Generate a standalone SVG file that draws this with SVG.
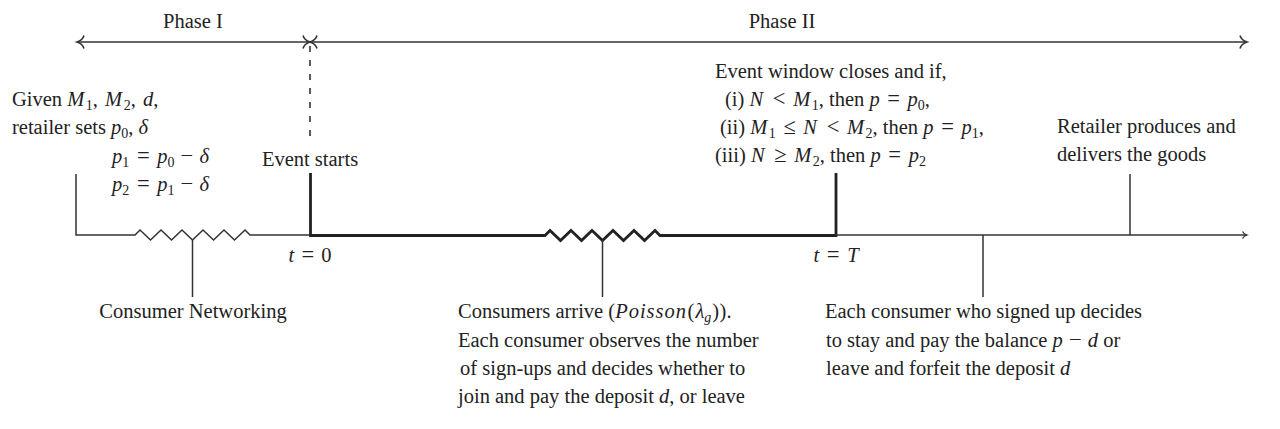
<svg xmlns="http://www.w3.org/2000/svg" width="1280" height="429" viewBox="0 0 1280 429">
<defs>
<style>
text{font-family:"Liberation Serif","Times New Roman",serif;font-size:20.5px;fill:#222}
.m{font-style:italic}
.s{font-size:14px}
.r{font-size:22.5px}
.thin{stroke:#333;stroke-width:1.5;fill:none}
.thick{stroke:#222;stroke-width:2.8;fill:none}
.dash{stroke:#333;stroke-width:1.6;stroke-dasharray:6 8;fill:none}
</style>
<marker id="big" markerUnits="userSpaceOnUse" markerWidth="16" markerHeight="16" viewBox="-8 -8 16 16" refX="0" refY="0" orient="auto-start-reverse">
<path d="M-7,-6.5 C-6,-3 -2.5,-0.8 0,0 C-2.5,0.8 -6,3 -7,6.5" fill="none" stroke="#333" stroke-width="1.6"/>
</marker>
<marker id="small" markerUnits="userSpaceOnUse" markerWidth="12" markerHeight="12" viewBox="-6 -6 12 12" refX="0" refY="0" orient="auto">
<path d="M-4.5,-3.5 C-3.5,-1.6 -1.5,-0.5 0,0 C-1.5,0.5 -3.5,1.6 -4.5,3.5" fill="none" stroke="#333" stroke-width="1.3"/>
</marker>
</defs>
<rect width="1280" height="429" fill="#fff"/>

<g id="connectors">
<line class="thin" x1="77" y1="42" x2="310" y2="42" marker-start="url(#big)" marker-end="url(#big)"/>
<line class="thin" x1="310" y1="42" x2="1247" y2="42" marker-start="url(#big)" marker-end="url(#big)"/>
<line class="dash" x1="310" y1="46" x2="310" y2="142"/>
<path class="thin" d="M76,174 V235 H135 l5,-5 l10.5,10 l10.5,-10 l10.5,10 l10.5,-10 l10.5,10 l10.5,-10 l10.5,10 l10.5,-10 l10.5,10 l10.5,-10 l5,5 H310"/>
<path class="thick" d="M310.5,173 V235.5 H545 l5,-5 l10.5,10 l10.5,-10 l10.5,10 l10.5,-10 l10.5,10 l10.5,-10 l10.5,10 l10.5,-10 l10.5,10 l10.5,-10 l5,5 H836 V173"/>
<line class="thin" x1="836" y1="235" x2="1247" y2="235" marker-end="url(#small)"/>
<line class="thin" x1="192.5" y1="240" x2="192.5" y2="297"/>
<line class="thin" x1="602.5" y1="240" x2="602.5" y2="297"/>
<line class="thin" x1="983" y1="235" x2="983" y2="297"/>
<line class="thin" x1="1130" y1="174" x2="1130" y2="235"/>
</g>

<g id="phase1"><text x="193" y="28" text-anchor="middle">Phase I</text></g>
<g id="phase2"><text x="782" y="28" text-anchor="middle">Phase II</text></g>

<g id="retailer-sets">
<text x="12" y="106">Given <tspan class="m">M</tspan><tspan class="s" dx="1.5" dy="4">1</tspan><tspan dy="-4">,</tspan><tspan dx="2"> </tspan><tspan class="m">M</tspan><tspan class="s" dx="1.5" dy="4">2</tspan><tspan dy="-4">,</tspan><tspan dx="2"> </tspan><tspan class="m">d</tspan>,</text>
<text x="12" y="134">retailer sets <tspan class="m">p</tspan><tspan class="s" dy="4">0</tspan><tspan dy="-4">, </tspan><tspan class="m">δ</tspan></text>
<text x="112" y="163"><tspan class="m">p</tspan><tspan class="s" dy="4">1</tspan><tspan dy="-4"> </tspan><tspan class="r" dx="2.5">=</tspan><tspan dx="2.5"> </tspan><tspan class="m">p</tspan><tspan class="s" dy="4">0</tspan><tspan dy="-4"> </tspan><tspan class="r" dx="1">−</tspan><tspan dx="1"> </tspan><tspan class="m">δ</tspan></text>
<text x="112" y="191"><tspan class="m">p</tspan><tspan class="s" dy="4">2</tspan><tspan dy="-4"> </tspan><tspan class="r" dx="2.5">=</tspan><tspan dx="2.5"> </tspan><tspan class="m">p</tspan><tspan class="s" dy="4">1</tspan><tspan dy="-4"> </tspan><tspan class="r" dx="1">−</tspan><tspan dx="1"> </tspan><tspan class="m">δ</tspan></text>
</g>

<g id="event-starts">
<text x="310" y="166" text-anchor="middle">Event starts</text>
<text x="310" y="262" text-anchor="middle"><tspan class="m">t</tspan> <tspan class="r" dx="2">=</tspan><tspan dx="2"> 0</tspan></text>
</g>

<g id="event-closes">
<text x="715" y="78">Event window closes and if,</text>
<text x="725" y="106">(i) <tspan class="m">N</tspan><tspan dx="2"> </tspan><tspan class="r" dx="2.5">&lt;</tspan><tspan dx="2.5"> </tspan><tspan class="m">M</tspan><tspan class="s" dx="1.5" dy="4">1</tspan><tspan dy="-4">, then </tspan><tspan class="m">p</tspan> <tspan class="r" dx="2.5">=</tspan><tspan dx="2.5"> </tspan><tspan class="m">p</tspan><tspan class="s" dy="4">0</tspan><tspan dy="-4">,</tspan></text>
<text x="720" y="134">(ii) <tspan class="m">M</tspan><tspan class="s" dx="1.5" dy="4">1</tspan><tspan dy="-4"> </tspan><tspan class="r" dx="2.5">≤</tspan><tspan dx="2.5"> </tspan><tspan class="m">N</tspan><tspan dx="2"> </tspan><tspan class="r" dx="2.5">&lt;</tspan><tspan dx="2.5"> </tspan><tspan class="m">M</tspan><tspan class="s" dx="1.5" dy="4">2</tspan><tspan dy="-4">, then </tspan><tspan class="m">p</tspan> <tspan class="r" dx="2.5">=</tspan><tspan dx="2.5"> </tspan><tspan class="m">p</tspan><tspan class="s" dy="4">1</tspan><tspan dy="-4">,</tspan></text>
<text x="715" y="162">(iii) <tspan class="m">N</tspan><tspan dx="2"> </tspan><tspan class="r" dx="2.5">≥</tspan><tspan dx="2.5"> </tspan><tspan class="m">M</tspan><tspan class="s" dx="1.5" dy="4">2</tspan><tspan dy="-4">, then </tspan><tspan class="m">p</tspan> <tspan class="r" dx="2.5">=</tspan><tspan dx="2.5"> </tspan><tspan class="m">p</tspan><tspan class="s" dy="4">2</tspan></text>
<text x="836" y="262" text-anchor="middle"><tspan class="m">t</tspan> <tspan class="r" dx="2.5">=</tspan><tspan dx="2.5"> </tspan><tspan class="m">T</tspan></text>
</g>

<g id="retailer-delivers">
<text x="1057" y="133">Retailer produces and</text>
<text x="1057" y="161">delivers the goods</text>
</g>

<g id="consumer-networking">
<text x="193" y="318" text-anchor="middle">Consumer Networking</text>
</g>

<g id="consumers-arrive">
<text x="458" y="318">Consumers arrive (<tspan class="m" letter-spacing="1">Poisson</tspan><tspan dx="0.5">(</tspan><tspan class="m" dx="1">λ</tspan><tspan class="s m" dy="4">g</tspan><tspan dy="-4" dx="1">)</tspan><tspan dx="0.5">).</tspan></text>
<text x="458" y="346.5">Each consumer observes the number</text>
<text x="460" y="375">of sign-ups and decides whether to</text>
<text x="458" y="403">join and pay the deposit <tspan class="m">d</tspan>, or leave</text>
</g>

<g id="consumer-decides">
<text x="825" y="318">Each consumer who signed up decides</text>
<text x="826" y="346.5">to stay and pay the balance <tspan class="m">p</tspan> <tspan class="r" dx="1">−</tspan><tspan dx="1"> </tspan><tspan class="m">d</tspan> or</text>
<text x="826" y="375">leave and forfeit the deposit <tspan class="m">d</tspan></text>
</g>
</svg>
